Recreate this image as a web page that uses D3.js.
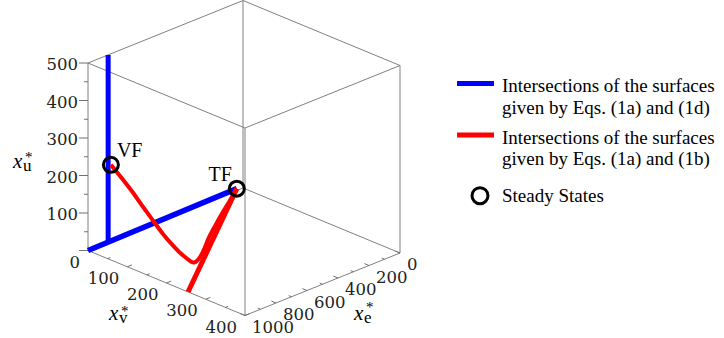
<!DOCTYPE html>
<html lang="en">
<head>
<meta charset="UTF-8">
<title>Steady states</title>
<style>
  body {
    margin: 0;
    background: #fff;
  }
  svg {
    display: block;
  }
  .edge {
    stroke: #808080;
    stroke-width: 1px;
    fill: none;
  }
  .tick {
    stroke: #707070;
    stroke-width: 1px;
  }
  .tick-label {
    font-family: "DejaVu Serif", serif;
    font-size: 16.5px;
    fill: #222;
  }
  .serif {
    font-family: "Liberation Serif", "Times New Roman", serif;
    fill: #000;
  }
</style>
</head>
<body>
<div id="chart"></div>
<script src="https://cdnjs.cloudflare.com/ajax/libs/d3/7.8.5/d3.min.js"></script>
<script>
  // tick values for each axis
  var xvTicks = [0, 100, 200, 300, 400];
  var xvMinor = [50, 150, 250, 350];
  var xeTicks = [0, 200, 400, 600, 800, 1000];
  var xeMinor = [100, 300, 500, 700, 900];
  var xuTicks = [0, 100, 200, 300, 400, 500];
  var xuLabels = [100, 200, 300, 400, 500];
  var xuMinor = [50, 150, 250, 350, 450];

  // curves, points are [x_v, x_e, x_u]
  var blueVertical = [[0, 870, 0], [0, 870, 500]];
  var blueBase = [[0, 1000, 0], [0, 40, 5]];
  var redCurve = [
    [7, 870, 210], [30, 855, 180], [52, 841, 150], [75, 836, 122], [100, 833, 95],
    [121, 824, 68], [141, 808, 42], [152, 786, 22], [162, 770, 10], [169, 763, 4],
    [171, 749, 0], [169, 724, 0], [158, 672, 0], [138, 596, 0], [112, 504, 0],
    [83, 390, 0], [54, 273, 0], [26, 156, 0], [2, 58, 0], [0, 40, 5]
  ];
  var redLine = [[255, 1000, 0], [0, 40, 5]];

  var stateNames = ["VF", "TF"];
  var statePoints = [[7, 870, 210], [0, 40, 5]];

  var legendLabels = [
    ["Intersections of the surfaces", "given by Eqs. (1a) and (1d)"],
    ["Intersections of the surfaces", "given by Eqs. (1a) and (1b)"],
    ["Steady States"]
  ];

  var width = 724, height = 338;

  var svg = d3.select("#chart").append("svg")
      .attr("width", width)
      .attr("height", height);

  // box projection: each axis runs along one screen direction
  var sv = d3.scaleLinear().domain([0, 400]).range([0, 1]);
  var se = d3.scaleLinear().domain([1000, 0]).range([0, 1]);
  var su = d3.scaleLinear().domain([0, 500]).range([0, 187.5]);
  var origin = [88, 250.5], vDir = [157, 65], eDir = [155, -62.5];

  function project(p) {
    var a = sv(p[0]), b = se(p[1]);
    return [origin[0] + a * vDir[0] + b * eDir[0],
            origin[1] + a * vDir[1] + b * eDir[1] - su(p[2])];
  }

  // box edges
  var vs = sv.domain(), es = se.domain(), us = su.domain();
  var edges = [];
  vs.forEach(function(v) { es.forEach(function(e) { edges.push([[v, e, us[0]], [v, e, us[1]]]); }); });
  vs.forEach(function(v) { us.forEach(function(u) { edges.push([[v, es[0], u], [v, es[1], u]]); }); });
  es.forEach(function(e) { us.forEach(function(u) { edges.push([[vs[0], e, u], [vs[1], e, u]]); }); });

  var straight = d3.line()
      .x(function(d) { return project(d)[0]; })
      .y(function(d) { return project(d)[1]; });

  var smooth = d3.line()
      .x(function(d) { return project(d)[0]; })
      .y(function(d) { return project(d)[1]; })
      .curve(d3.curveCatmullRom);

  svg.append("g").selectAll("path")
      .data(edges)
    .enter().append("path")
      .attr("class", "edge")
      .attr("d", straight);

  var ticks = svg.append("g");

  // x_u axis (left vertical edge)
  ticks.selectAll(".tu")
      .data(xuTicks.map(function(t) { return { t: t, len: 9 }; })
        .concat(xuMinor.map(function(t) { return { t: t, len: 4 }; })))
    .enter().append("line")
      .attr("class", "tick")
      .attr("x1", function(d) { return project([0, 1000, d.t])[0] - d.len; })
      .attr("x2", function(d) { return project([0, 1000, d.t])[0]; })
      .attr("y1", function(d) { return project([0, 1000, d.t])[1]; })
      .attr("y2", function(d) { return project([0, 1000, d.t])[1]; });

  ticks.selectAll(".lu")
      .data(xuLabels)
    .enter().append("text")
      .attr("class", "tick-label")
      .attr("text-anchor", "end")
      .attr("x", function(d) { return project([0, 1000, d])[0] - 10; })
      .attr("y", function(d) { return project([0, 1000, d])[1] + 7; })
      .text(function(d) { return d; });

  // x_v axis (front left bottom edge), ticks point into the box
  ticks.selectAll(".tv")
      .data(xvTicks.map(function(t) { return { t: t, len: 5 }; })
        .concat(xvMinor.map(function(t) { return { t: t, len: 3 }; })))
    .enter().append("line")
      .attr("class", "tick")
      .attr("x1", function(d) { return project([d.t, 1000, 0])[0]; })
      .attr("y1", function(d) { return project([d.t, 1000, 0])[1]; })
      .attr("x2", function(d) { return project([d.t, 1000, 0])[0] + d.len * 0.93; })
      .attr("y2", function(d) { return project([d.t, 1000, 0])[1] - d.len * 0.37; });

  ticks.selectAll(".lv")
      .data(xvTicks)
    .enter().append("text")
      .attr("class", "tick-label")
      .attr("text-anchor", "end")
      .attr("x", function(d) { return project([d, 1000, 0])[0] - 8; })
      .attr("y", function(d) { return project([d, 1000, 0])[1] + 17; })
      .text(function(d) { return d; });

  // x_e axis (front right bottom edge)
  ticks.selectAll(".te")
      .data(xeTicks.map(function(t) { return { t: t, len: 5 }; })
        .concat(xeMinor.map(function(t) { return { t: t, len: 3 }; })))
    .enter().append("line")
      .attr("class", "tick")
      .attr("x1", function(d) { return project([400, d.t, 0])[0]; })
      .attr("y1", function(d) { return project([400, d.t, 0])[1]; })
      .attr("x2", function(d) { return project([400, d.t, 0])[0] - d.len * 0.92; })
      .attr("y2", function(d) { return project([400, d.t, 0])[1] - d.len * 0.38; });

  ticks.selectAll(".le")
      .data(xeTicks)
    .enter().append("text")
      .attr("class", "tick-label")
      .attr("x", function(d) { return project([400, d, 0])[0] + 7; })
      .attr("y", function(d) { return project([400, d, 0])[1] + 17; })
      .text(function(d) { return d; });

  // axis titles: italic x with stacked * and subscript
  function axisTitle(x, y, sub, starDy, subDy) {
    var g = svg.append("g").attr("class", "serif");
    g.append("text").attr("x", x).attr("y", y)
        .style("font-style", "italic").style("font-size", "21px").text("x");
    g.append("text").attr("x", x + 12).attr("y", y + starDy)
        .style("font-size", "15px").text("*");
    g.append("text").attr("x", x + 10).attr("y", y + subDy)
        .style("font-size", "17px").text(sub);
  }
  axisTitle(13, 168, "u", -6, 3);
  axisTitle(109, 320, "v", -4, 3);
  axisTitle(354, 320, "e", -8, 3);

  // curves
  var curves = svg.append("g").attr("fill", "none").attr("stroke-linecap", "butt");

  curves.append("path")
      .attr("d", straight(blueVertical))
      .attr("stroke", "#0000ff")
      .attr("stroke-width", 5);

  curves.append("path")
      .attr("d", straight(blueBase))
      .attr("stroke", "#0000ff")
      .attr("stroke-width", 5.5);

  curves.append("path")
      .attr("d", straight(redLine))
      .attr("stroke", "#ff0000")
      .attr("stroke-width", 5);

  curves.append("path")
      .attr("d", smooth(redCurve))
      .attr("stroke", "#ff0000")
      .attr("stroke-width", 4);

  // steady states
  svg.append("g").selectAll("circle")
      .data(statePoints)
    .enter().append("circle")
      .attr("cx", function(d) { return project(d)[0]; })
      .attr("cy", function(d) { return project(d)[1]; })
      .attr("r", 7.5)
      .attr("fill", "none")
      .attr("stroke", "#000")
      .attr("stroke-width", 3);

  svg.append("g").selectAll("text")
      .data(stateNames)
    .enter().append("text")
      .attr("class", "serif")
      .style("font-size", "20px")
      .attr("text-anchor", function(d, i) { return i === 0 ? "start" : "end"; })
      .attr("x", function(d, i) { return project(statePoints[i])[0] + (i === 0 ? 6 : -5); })
      .attr("y", function(d, i) { return project(statePoints[i])[1] - 7.5; })
      .text(function(d) { return d; });

  // legend
  var legend = svg.append("g").attr("class", "legend");
  var legendTop = [92, 143.5, 202];
  var legendColors = ["#0000ff", "#ff0000", null];

  legendLabels.forEach(function(lines, i) {
    var y = legendTop[i];
    if (legendColors[i]) {
      legend.append("line")
          .attr("x1", 457).attr("x2", 494)
          .attr("y1", y - 8.5).attr("y2", y - 8.5)
          .attr("stroke", legendColors[i])
          .attr("stroke-width", 5);
    } else {
      legend.append("circle")
          .attr("cx", 480).attr("cy", y - 6.3)
          .attr("r", 8)
          .attr("fill", "none")
          .attr("stroke", "#000")
          .attr("stroke-width", 3);
    }
    lines.forEach(function(line, j) {
      legend.append("text")
          .attr("class", "serif")
          .style("font-size", "19px")
          .attr("x", 502)
          .attr("y", y + j * 21.5)
          .text(line);
    });
  });
</script>
</body>
</html>
